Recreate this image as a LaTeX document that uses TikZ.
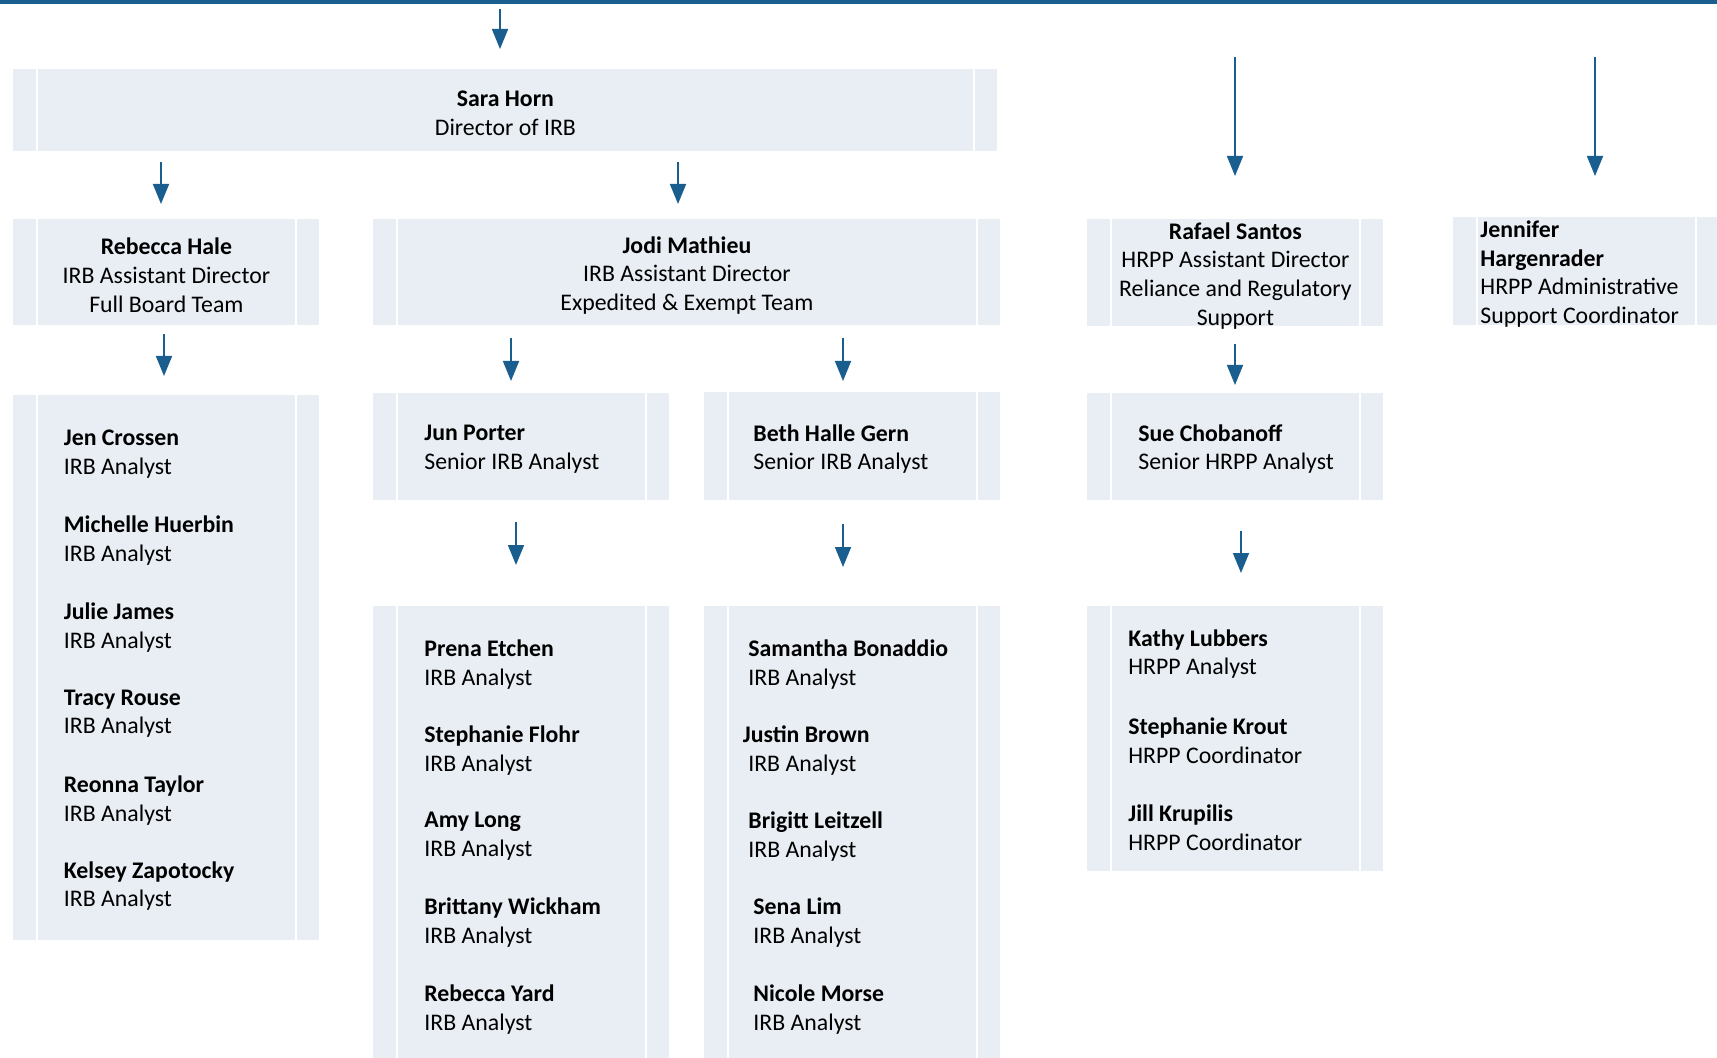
\documentclass[tikz,border=0pt]{standalone}
\usepackage{fontspec}
\setmainfont{Carlito}
\usetikzlibrary{arrows.meta}
\definecolor{boxfill}{HTML}{E8EEF4}
\definecolor{arrowblue}{HTML}{1A5E90}
\begin{document}
\begin{tikzpicture}[x=0.5pt,y=-0.5pt,
  orgbox/.style={fill=boxfill, draw=none, rectangle, inner sep=0pt, anchor=north west,
    path picture={
      \draw[white,line width=1pt] ([xshift=12pt]path picture bounding box.north west) -- ([xshift=12pt]path picture bounding box.south west);
      \draw[white,line width=1pt] ([xshift=-11.5pt]path picture bounding box.north east) -- ([xshift=-11.5pt]path picture bounding box.south east);}},
  txt/.style={font=\fontsize{11.9}{14.4}\selectfont, inner sep=0pt, align=center, text=black, yshift=-1.5pt},
  person/.style={txt, align=left, anchor=west},
  conn/.style={draw=arrowblue, line width=0.85pt, -{Triangle[width=8pt,length=10pt]}},
  toprule/.style={draw=arrowblue, line width=2pt}
]
\clip (0,0) rectangle (1717,1058);
% top rule
\coordinate (topL) at (0,2);
\coordinate (topR) at (1717,2);
\draw[toprule] (topL) -- (topR);

% boxes
\node[orgbox, minimum width=492pt, minimum height=41pt] (sara) at (13,69) {};
\node[orgbox, minimum width=153pt, minimum height=53pt] (hale) at (13,219) {};
\node[orgbox, minimum width=313.5pt, minimum height=53pt] (jodi) at (373,219) {};
\node[orgbox, minimum width=148pt, minimum height=53.5pt] (rafael) at (1087,219) {};
\node[orgbox, minimum width=133pt, minimum height=54pt] (jen) at (1453,217) {};
\node[orgbox, minimum width=153pt, minimum height=272.5pt] (team1) at (13,395) {};
\node[orgbox, minimum width=148pt, minimum height=53.5pt] (jun) at (373,393) {};
\node[orgbox, minimum width=148pt, minimum height=54pt] (beth) at (704,392) {};
\node[orgbox, minimum width=148pt, minimum height=53.5pt] (sue) at (1087,393) {};
\node[orgbox, minimum width=148pt, minimum height=230pt] (team2) at (373,606) {};
\node[orgbox, minimum width=148pt, minimum height=230pt] (team3) at (704,606) {};
\node[orgbox, minimum width=148pt, minimum height=132.5pt] (team4) at (1087,606) {};

% header texts
\node[txt] (saraT) at (sara.center) {\textbf{Sara Horn}\\Director of IRB};
\node[txt] (haleT) at (hale.center) {\textbf{Rebecca Hale}\\IRB Assistant Director\\Full Board Team};
\node[txt] (jodiT) at (jodi.center) {\textbf{Jodi Mathieu}\\IRB Assistant Director\\Expedited \& Exempt Team};
\node[txt] (rafaelT) at (rafael.center) {\textbf{Rafael Santos}\\HRPP Assistant Director\\Reliance and Regulatory\\Support};
\node[person] (jenT) at (1480,271) {\textbf{Jennifer}\\\textbf{Hargenrader}\\HRPP Administrative\\Support Coordinator};

% senior analysts
\node[person] (junT) at (424,446) {\textbf{Jun Porter}\\Senior IRB Analyst};
\node[person] (bethT) at (753,446) {\textbf{Beth Halle Gern}\\Senior IRB Analyst};
\node[person] (sueT) at (1138,446) {\textbf{Sue Chobanoff}\\Senior HRPP Analyst};

% team 1
\node[person] (p11) at (63.5,451) {\textbf{Jen Crossen}\\IRB Analyst};
\node[person] (p12) at (63.5,537.6) {\textbf{Michelle Huerbin}\\IRB Analyst};
\node[person] (p13) at (63.5,624.2) {\textbf{Julie James}\\IRB Analyst};
\node[person] (p14) at (63.5,710.7) {\textbf{Tracy Rouse}\\IRB Analyst};
\node[person] (p15) at (63.5,797.2) {\textbf{Reonna Taylor}\\IRB Analyst};
\node[person] (p16) at (63.5,883.1) {\textbf{Kelsey Zapotocky}\\IRB Analyst};

% team 2
\node[person] (p21) at (424,661.4) {\textbf{Prena Etchen}\\IRB Analyst};
\node[person] (p22) at (424,747.9) {\textbf{Stephanie Flohr}\\IRB Analyst};
\node[person] (p23) at (424,833.3) {\textbf{Amy Long}\\IRB Analyst};
\node[person] (p24) at (424,919.8) {\textbf{Brittany Wickham}\\IRB Analyst};
\node[person] (p25) at (424,1006.3) {\textbf{Rebecca Yard}\\IRB Analyst};

% team 3
\node[person] (p31) at (748,661.4) {\textbf{Samantha Bonaddio}\\IRB Analyst};
\node[person] (p32) at (742.5,747.9) {\textbf{Justin Brown}\\\hspace*{2.7pt}IRB Analyst};
\node[person] (p33) at (748,833.3) {\textbf{Brigitt Leitzell}\\IRB Analyst};
\node[person] (p34) at (753,919.8) {\textbf{Sena Lim}\\IRB Analyst};
\node[person] (p35) at (753,1006.3) {\textbf{Nicole Morse}\\IRB Analyst};

% team 4
\node[person] (p41) at (1128,651) {\textbf{Kathy Lubbers}\\HRPP Analyst};
\node[person] (p42) at (1128,738) {\textbf{Stephanie Krout}\\HRPP Coordinator};
\node[person] (p43) at (1128,824.5) {\textbf{Jill Krupilis}\\HRPP Coordinator};

% connectors (floating arrows)
\coordinate (a0s) at (500,9);   \coordinate (a0e) at (500,49);
\coordinate (a1s) at (161,162); \coordinate (a1e) at (161,204);
\coordinate (a2s) at (678,162); \coordinate (a2e) at (678,204);
\coordinate (a3s) at (1235,57); \coordinate (a3e) at (1235,176);
\coordinate (a4s) at (1595,57); \coordinate (a4e) at (1595,176);
\coordinate (a5s) at (164,334); \coordinate (a5e) at (164,376);
\coordinate (a6s) at (511,338); \coordinate (a6e) at (511,381);
\coordinate (a7s) at (843,338); \coordinate (a7e) at (843,381);
\coordinate (a8s) at (1235,344); \coordinate (a8e) at (1235,385);
\coordinate (a9s) at (516,522); \coordinate (a9e) at (516,565);
\coordinate (a10s) at (843,524); \coordinate (a10e) at (843,567);
\coordinate (a11s) at (1241,531); \coordinate (a11e) at (1241,573);
\foreach \i in {0,...,11} {\draw[conn] (a\i s) -- (a\i e);}
\end{tikzpicture}
\end{document}
